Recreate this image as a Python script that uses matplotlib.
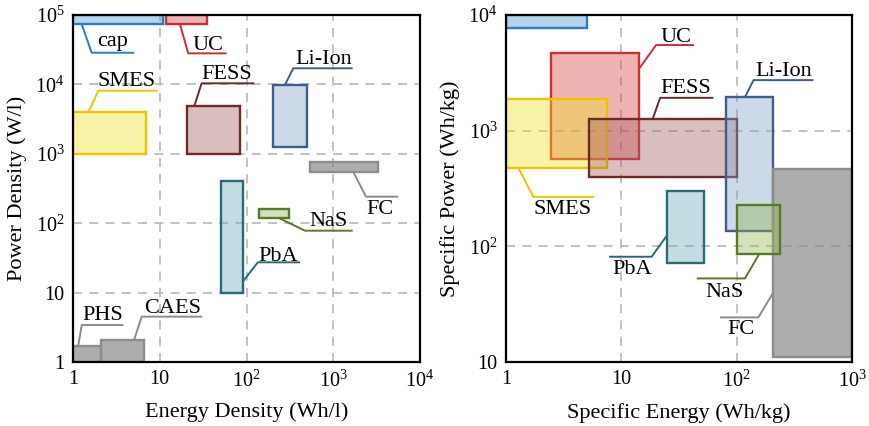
import matplotlib
matplotlib.use("Agg")
import matplotlib.pyplot as plt
from matplotlib.patches import Rectangle
from matplotlib.ticker import FixedLocator, NullLocator

plt.rcParams['font.family'] = ['Liberation Serif', 'DejaVu Serif']
plt.rcParams['mathtext.fontset'] = 'custom'
plt.rcParams['mathtext.rm'] = 'Liberation Serif'
plt.rcParams['mathtext.it'] = 'Liberation Serif:italic'

# ---------------- data: left panel (volumetric) ----------------
L_names = ['cap', 'UC', 'FESS', 'Li-Ion', 'FC', 'PbA', 'NaS', 'PHS', 'CAES', 'SMES']
L_e_lo = [1.0, 11.7, 20.4, 204, 540, 50.8, 139, 1.0, 2.1, 1.0]
L_e_hi = [11.0, 35.0, 84.0, 503, 3300, 92.0, 306, 2.1, 6.5, 7.0]
L_p_lo = [7.5e4, 7.5e4, 1000, 1260, 547, 10.0, 120, 1.0, 1.0, 1000]
L_p_hi = [1.0e5, 1.0e5, 4900, 9900, 760, 400, 158, 1.72, 2.1, 3960]

# ---------------- data: right panel (gravimetric) ----------------
R_names = ['cap', 'UC', 'SMES', 'FESS', 'Li-Ion', 'PbA', 'FC', 'NaS']
R_e_lo = [1.0, 2.44, 1.0, 5.28, 81, 25, 208, 101]
R_e_hi = [5.0, 14.3, 7.47, 101, 206, 52, 1000, 238]
R_p_lo = [7650, 568, 475, 395, 135, 72, 11, 86]
R_p_hi = [1.0e4, 4710, 1890, 1260, 1950, 300, 463, 227]

# ---------------- styles ----------------
edge = {'cap': '#2a7cc4', 'UC': '#d02c36', 'SMES': '#f5c000', 'FESS': '#6b2b2b',
        'Li-Ion': '#3e5e8c', 'PbA': '#2a6a78', 'NaS': '#577a2a', 'FC': '#8c8c8c',
        'PHS': '#8c8c8c', 'CAES': '#8c8c8c'}
face = {'cap': '#4696d4', 'UC': '#d74343', 'SMES': '#ede325', 'FESS': '#a76161',
        'Li-Ion': '#7fa2ca', 'PbA': '#6baab9', 'NaS': '#96b44d', 'FC': '#8a8a8a',
        'PHS': '#8a8a8a', 'CAES': '#8a8a8a'}
falpha = {'FC': 0.7, 'PHS': 0.7, 'CAES': 0.7}

# ---------------- label layout (data coordinates) ----------------
L_leader = {
    'cap': ([1.26, 1.64, 5.09], [7.35e4, 2.86e4, 2.86e4], (2.89, 3.57e4)),
    'UC': ([17.1, 21.3, 59.1], [7.35e4, 2.8e4, 2.8e4], (36, 3.13e4)),
    'SMES': ([1.5, 1.96, 9.47], [3960, 8120, 8120], (4.19, 9480)),
    'FESS': ([25, 30.4, 123], [4885, 10370, 10370], (59.6, 11960)),
    'Li-Ion': ([278, 346, 1675], [9900, 17060, 17060], (782, 19680)),
    'FC': ([1702, 2386, 5620], [547, 241, 241], (3460, 135.7)),
    'NaS': ([233, 472, 1675], [120, 78, 78], (870, 91.1)),
    'PbA': ([91.9, 135, 414], [14.7, 27.3, 27.3], (231, 28.8)),
    'PHS': ([1.15, 1.26, 3.8], [1.72, 3.41, 3.41], (2.22, 4.03)),
    'CAES': ([5.09, 6.19, 30.9], [2.12, 4.5, 4.5], (14.2, 5.13)),
}
R_leader = {
    'UC': ([14.3, 20, 42.7], [3450, 5500, 5500], (29.8, 5860)),
    'FESS': ([18.7, 21.7, 62.8], [1260, 1923, 1923], (36.4, 2100)),
    'Li-Ion': ([118, 140, 463], [1950, 2735, 2735], (258, 2965)),
    'SMES': ([1.28, 1.725, 5.83], [475, 268, 268], (3.12, 190)),
    'PbA': ([25, 18.3, 7.82], [125, 81.3, 81.3], (12.4, 57.6)),
    'NaS': ([157, 118, 45.1], [86, 52.8, 52.8], (77.8, 36.2)),
    'FC': ([206, 154, 71.8], [39.3, 24.3, 24.3], (109, 17.3)),
}

L_xticks = [1, 10, 100, 1000, 10000]
L_xlabels = ['1', '10', r'$10^{2}$', r'$10^{3}$', r'$10^{4}$']
L_yticks = [1, 10, 100, 1000, 10000, 100000]
L_ylabels = ['1', '10', r'$10^{2}$', r'$10^{3}$', r'$10^{4}$', r'$10^{5}$']
R_xticks = [1, 10, 100, 1000]
R_xlabels = ['1', '10', r'$10^{2}$', r'$10^{3}$']
R_yticks = [10, 100, 1000, 10000]
R_ylabels = ['10', r'$10^{2}$', r'$10^{3}$', r'$10^{4}$']

fig = plt.figure(figsize=(8.69, 4.26), dpi=100)
axL = fig.add_axes([73 / 869, 64 / 426, 347 / 869, 347 / 426])
axR = fig.add_axes([506 / 869, 64 / 426, 346 / 869, 347 / 426])


def setup(ax, xlim, ylim, xt, xl, yt, yl, xgrid, ygrid, xlabel, ylabel):
    ax.set_xscale('log')
    ax.set_yscale('log')
    ax.set_xlim(*xlim)
    ax.set_ylim(*ylim)
    ax.xaxis.set_major_locator(FixedLocator(xt))
    ax.set_xticklabels(xl)
    ax.yaxis.set_major_locator(FixedLocator(yt))
    ax.set_yticklabels(yl)
    ax.xaxis.set_minor_locator(NullLocator())
    ax.yaxis.set_minor_locator(NullLocator())
    ax.tick_params(length=0, pad=6, labelsize=14.5)
    for g in xgrid:
        ax.axvline(g, color='#bdbdbd', lw=1.3, ls=(0, (5, 4)), zorder=0.5)
    for g in ygrid:
        ax.axhline(g, color='#bdbdbd', lw=1.3, ls=(0, (5, 4)), zorder=0.5)
    for s in ax.spines.values():
        s.set_linewidth(1.6)
        s.set_color('black')
        s.set_zorder(5)
    ax.set_xlabel(xlabel, fontsize=16, labelpad=8)
    ax.set_ylabel(ylabel, fontsize=16, labelpad=6)


setup(axL, (1, 1e4), (1, 1e5), L_xticks, L_xlabels, L_yticks, L_ylabels,
      [10, 100, 1000], [10, 100, 1000, 10000],
      'Energy Density (Wh/l)', 'Power Density (W/l)')
setup(axR, (1, 1000), (10, 1e4), R_xticks, R_xlabels, R_yticks, R_ylabels,
      [10, 100], [100, 1000],
      'Specific Energy (Wh/kg)', 'Specific Power (Wh/kg)')


def draw(ax, names, elo, ehi, plo, phi, leaders):
    for i, n in enumerate(names):
        ax.add_patch(Rectangle((elo[i], plo[i]), ehi[i] - elo[i], phi[i] - plo[i],
                               facecolor=face[n], alpha=falpha.get(n, 0.4),
                               edgecolor='none', zorder=1 + i * 0.01))
        ax.add_patch(Rectangle((elo[i], plo[i]), ehi[i] - elo[i], phi[i] - plo[i],
                               facecolor='none', edgecolor=edge[n], lw=1.7,
                               zorder=1.005 + i * 0.01))
    for n, (xs, ys, (tx, ty)) in leaders.items():
        ax.plot(xs, ys, color=edge[n], lw=1.4, zorder=3, solid_capstyle='butt')
        ax.text(tx, ty, n, ha='center', va='baseline', fontsize=16, zorder=4)


draw(axL, L_names, L_e_lo, L_e_hi, L_p_lo, L_p_hi, L_leader)
draw(axR, R_names, R_e_lo, R_e_hi, R_p_lo, R_p_hi, R_leader)

fig.savefig('out.png', dpi=100)
